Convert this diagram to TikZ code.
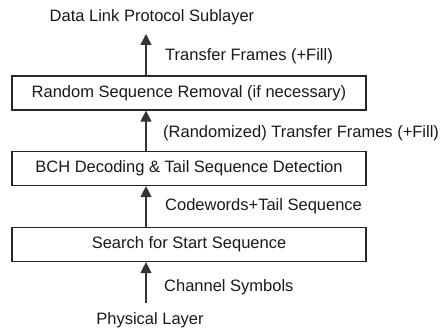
\documentclass[tikz,border=0pt]{standalone}
\usepackage{fontspec}
\setmainfont{Liberation Sans}
\usetikzlibrary{arrows.meta,calc}
\begin{document}
\begin{tikzpicture}[x=1pt,y=-1pt,
  every node/.style={font=\fontsize{16.5}{19}\selectfont, text=black!90, inner sep=0pt},
  layerbox/.style={draw=black!85, line width=1.2pt, minimum width=354pt, minimum height=34pt},
  flow/.style={draw=black!80, line width=1.4pt, -{Triangle[width=11pt,length=11pt]}},
  lbl/.style={anchor=west}]
\useasboundingbox (0,0) rectangle (442,331);
\node[layerbox] (rsr) at (189,93) {Random Sequence Removal (if necessary)};
\node[layerbox] (bch) at (189,168.5) {BCH Decoding \& Tail Sequence Detection};
\node[layerbox] (sss) at (189,244.5) {Search for Start Sequence};
\node (dl) at (152,17) {Data Link Protocol Sublayer};
\node (pl) at (150,320) {Physical Layer};
\coordinate (atop) at (146,34);
\coordinate (abot) at (146,303);
\coordinate (ax) at (146,0);
\draw[flow] (rsr.north -| ax) -- (atop);
\draw[flow] (bch.north -| ax) -- (rsr.south -| ax);
\draw[flow] (sss.north -| ax) -- (bch.south -| ax);
\draw[flow] (abot) -- (sss.south -| ax);
\node[lbl] (l1) at (165,56) {Transfer Frames (+Fill)};
\node[lbl] (l2) at (163,133) {(Randomized) Transfer Frames (+Fill)};
\node[lbl] (l3) at (165,206) {Codewords+Tail Sequence};
\node[lbl] (l4) at (164,287) {Channel Symbols};
\end{tikzpicture}
\end{document}
